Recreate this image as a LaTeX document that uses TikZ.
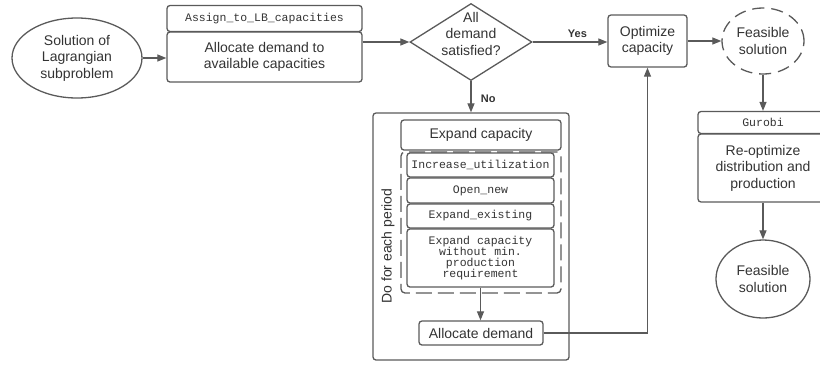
\documentclass[tikz,border=0pt]{standalone}
\usepackage{fontspec}
\setmainfont{Liberation Sans}
\newfontfamily\monof{Liberation Mono}
\usetikzlibrary{shapes.geometric,arrows.meta}
\definecolor{lc}{HTML}{5A5A5A}
\definecolor{tc}{HTML}{333333}
\tikzset{
  every node/.style={text=tc, font=\fontsize{14}{16.5}\selectfont},
  bx/.style={draw=lc, line width=1.3pt, rounded corners=3pt, inner sep=0pt, align=center},
  mono/.style={font=\monof\fontsize{11.5}{11.5}\selectfont},
  monoml/.style={font=\monof\fontsize{11.5}{10.8}\selectfont},
  ell/.style={draw=lc, line width=1.3pt, ellipse, inner sep=0pt, align=center},
  arr/.style={draw=lc, line width=1.2pt, -{Triangle[length=9pt,width=7pt]}},
  lbl/.style={font=\bfseries\fontsize{11}{11}\selectfont}
}
\begin{document}
\begin{tikzpicture}[x=1pt,y=-1pt]
\useasboundingbox (0,0) rectangle (820,365);
% left part
\node[ell, minimum width=130, minimum height=80] (sol) at (77,58) {Solution of\\Lagrangian\\subproblem};
\node[bx, mono, minimum width=195, minimum height=26] (hdr1) at (264.5,18.5) {Assign\_to\_LB\_capacities};
\node[bx, minimum width=195, minimum height=50] (alloc1) at (264.5,57) {Allocate demand to\\available capacities};
% diamond
\node[diamond, draw=lc, line width=1.3pt, minimum width=122, minimum height=77, inner sep=0pt] (dia) at (471,42) {};
\node[align=center, inner sep=0pt] (diat) at (471,33.5) {All\\demand\\satisfied?};
% optimize and feasible
\node[bx, minimum width=79, minimum height=52] (opt) at (647.5,41) {Optimize\\capacity};
\node[ell, dash pattern=on 12pt off 7pt, minimum width=82, minimum height=66] (feas1) at (763,41) {Feasible\\solution};
\node[bx, mono, minimum width=130, minimum height=22] (gur) at (763,122.5) {Gurobi};
\node[bx, minimum width=130, minimum height=68] (reopt) at (763,168) {Re-optimize\\distribution and\\production};
\node[ell, minimum width=94, minimum height=78] (feas2) at (763,279) {Feasible\\solution};
% loop block
\node[bx, minimum width=196, minimum height=247] (outer) at (471,236.5) {};
\node[rotate=90, inner sep=0pt] (per) at (388,246) {Do for each period};
\node[bx, minimum width=160, minimum height=30] (expcap) at (481,135) {Expand capacity};
\node[draw=lc, line width=1.3pt, rounded corners=4pt, dash pattern=on 16pt off 6pt, minimum width=160, minimum height=141, inner sep=0pt] (grp) at (481,222.5) {};
\node[bx, mono, minimum width=147, minimum height=24] (iu) at (480.5,165) {Increase\_utilization};
\node[bx, mono, minimum width=147, minimum height=25] (on) at (480.5,190.5) {Open\_new};
\node[bx, mono, minimum width=147, minimum height=24] (ee) at (480.5,216) {Expand\_existing};
\node[bx, monoml, minimum width=147, minimum height=58] (ec) at (480.5,258) {Expand capacity\\without min.\\production\\requirement};
\node[bx, minimum width=124, minimum height=24] (ad) at (481,333) {Allocate demand};
% connectors
\draw[arr] (sol.east) -- (sol.east -| alloc1.west);
\draw[arr] (dia.west -| alloc1.east) -- (dia.west);
\draw[arr] (dia.east) -- node[lbl, above, pos=0.6] (yes) {Yes} (dia.east -| opt.west);
\draw[arr] (opt.east) -- (opt.east -| feas1.west);
\draw[arr] (feas1.south) -- (gur.north);
\draw[arr] (dia.south) -- node[lbl, right, xshift=6pt, pos=0.55] (no) {No} (dia.south |- outer.north);
\draw[arr] (reopt.south) -- (feas2.north);
\draw[arr] (ec.south) -- (ec.south |- ad.north);
\draw[arr] (ad.east) -| (opt.south);
\end{tikzpicture}
\end{document}
